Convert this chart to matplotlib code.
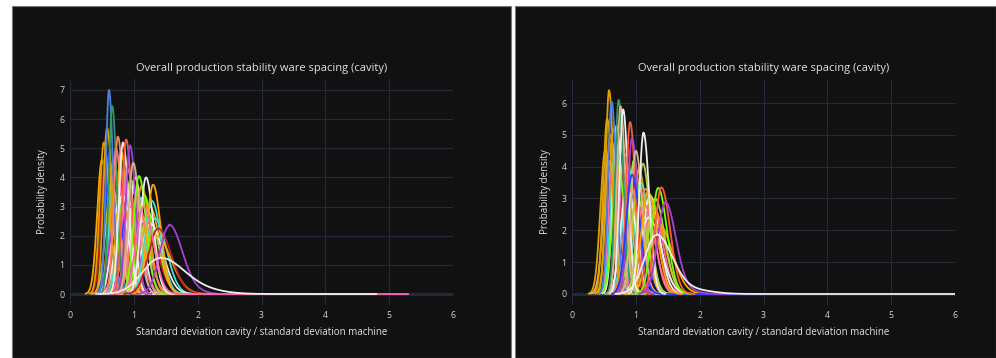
import numpy as np
import matplotlib.pyplot as plt
from matplotlib.patches import Rectangle

plt.rcParams['font.family'] = ['Open Sans', 'DejaVu Sans']

TITLE = 'Overall production stability ware spacing (cavity)'
XLABEL = 'Standard deviation cavity / standard deviation machine'
YLABEL = 'Probability density'

# colours used by the curves
C = {
    'gold': '#e0a000', 'royal': '#4f7fe0', 'sea': '#2e9a5e', 'salmon': '#fa8060',
    'white': '#eeeeee', 'tomato': '#ff5a3c', 'orchid': '#a83fd6', 'tan': '#d9b48a',
    'lime': '#7cfc00', 'orange': '#ffa500', 'turq': '#40e0d0', 'red': '#c42020',
    'pink': '#ff69b4', 'blue': '#2040ff', 'yg': '#b0d040',
}

# ---- left panel: mode, peak density, colour of every kde curve
left_mode = [0.50, 0.56, 0.63, 0.68, 0.70, 0.72, 0.74, 0.78, 0.80, 0.85, 0.87,
             0.90, 0.92, 0.96, 1.00, 1.02, 1.05, 1.10, 1.12, 1.18, 1.22, 1.25,
             1.33, 0.82, 0.95, 1.07, 1.16, 1.26, 0.65, 0.77, 1.35,
             0.53, 0.58, 0.61, 0.66, 0.75, 0.83, 0.88, 0.94, 0.99, 1.08,
             1.19, 1.28, 1.30, 1.38, 1.55, 1.15, 1.41]
left_peak = [4.6, 4.8, 5.0, 4.6, 4.2, 5.0, 3.0, 4.4, 4.9, 3.6, 4.0,
             4.3, 3.3, 3.9, 3.5, 4.0, 3.4, 3.3, 3.7, 2.5, 2.8, 3.0,
             2.6, 3.4, 3.0, 2.9, 3.4, 2.4, 3.8, 3.2, 2.0,
             5.2, 5.7, 7.0, 6.45, 5.4, 5.2, 5.3, 5.1, 4.5, 4.05,
             4.0, 3.2, 3.75, 2.25, 2.33, 3.0, 1.23]
left_color = ['orange', 'red', 'blue', 'orange', 'turq', 'pink', 'orchid', 'blue',
              'orange', 'turq', 'lime', 'pink', 'blue', 'gold', 'salmon', 'white',
              'pink', 'turq', 'gold', 'red', 'yg', 'orange', 'turq',
              'white', 'pink', 'salmon', 'lime', 'white', 'yg', 'white', 'orange',
              'gold', 'gold', 'royal', 'sea', 'salmon', 'white', 'tomato', 'orchid',
              'tan', 'lime', 'white', 'turq', 'orange', 'red', 'orchid', 'pink',
              'white']
# curves whose data run out far to the right
left_tail_idx = [46, 47]
left_tail_end = [5.3, 4.8]
# extra shoulder on the broad curves
left_bump_idx = [47, 45]
left_bump_mu = [2.1, 1.85]
left_bump_h = [0.10, 0.15]
left_bump_sd = [0.35, 0.2]

# ---- right panel
right_mode = [0.52, 0.60, 0.65, 0.68, 0.70, 0.78, 0.83, 0.85, 0.88, 0.97, 0.99,
              1.03, 1.05, 1.08, 1.15, 1.17, 1.22, 1.25, 1.28, 1.30, 0.72, 0.86,
              0.93, 1.02, 1.13, 1.20, 1.36, 0.57,
              0.55, 0.58, 0.62, 0.73, 0.76, 0.80, 0.91, 0.94, 1.00, 1.11, 0.94,
              1.19, 1.12, 1.35, 1.40, 1.46, 1.32]
right_peak = [4.5, 5.0, 5.2, 4.8, 5.3, 4.6, 4.4, 4.8, 4.0, 4.2, 3.2,
              3.6, 3.9, 3.5, 3.3, 2.6, 3.1, 2.9, 2.7, 3.0, 4.0, 3.5,
              3.3, 3.0, 2.8, 2.4, 2.2, 4.2,
              5.5, 6.4, 6.04, 6.1, 5.9, 5.8, 5.4, 4.9, 4.5, 4.1, 3.75,
              3.2, 5.07, 3.33, 3.35, 2.85, 1.85]
right_color = ['gold', 'orange', 'pink', 'turq', 'white', 'salmon', 'pink', 'red',
               'turq', 'lime', 'blue', 'pink', 'orange', 'turq', 'salmon', 'red',
               'white', 'pink', 'orange', 'yg', 'lime', 'white', 'salmon', 'yg',
               'pink', 'white', 'orange', 'tan',
               'gold', 'gold', 'royal', 'sea', 'tan', 'white', 'tomato', 'orchid',
               'tan', 'yg', 'blue', 'orange', 'white', 'lime', 'tomato', 'orchid',
               'white']
right_tail_idx = [43, 38, 44]
right_tail_end = [2.5, 3.0, 6.0]
right_bump_idx = [44, 43]
right_bump_mu = [1.9, 1.75]
right_bump_h = [0.12, 0.12]
right_bump_sd = [0.3, 0.2]

SKEW = 1.35


def kde_line(mode, peak, end=None):
    # two sided bell with unit area and the given peak height
    s = 1.0 / (peak * np.sqrt(2 * np.pi))
    sl = 2 * s / (1 + SKEW)
    sr = SKEW * sl
    lo = mode - 3.5 * sl
    hi = end if end is not None else mode + 3.8 * sr
    x = np.linspace(lo, hi, 600)
    sd = np.where(x < mode, sl, sr)
    y = peak * np.exp(-0.5 * ((x - mode) / sd) ** 2)
    return x, y


W, H = 996, 358
TXT = '#dfe2e7'


def panel(ax, modes, peaks, colors, tail_idx, tail_end, b_idx, b_mu, b_h, b_sd, ylim):
    ax.set_facecolor('#111111')
    for i, (m, p, c) in enumerate(zip(modes, peaks, colors)):
        end = tail_end[tail_idx.index(i)] if i in tail_idx else None
        x, y = kde_line(m, p, end)
        if i in b_idx:
            k = b_idx.index(i)
            y = y + b_h[k] * np.exp(-0.5 * ((x - b_mu[k]) / b_sd[k]) ** 2) * (x > m)
        ax.plot(x, y, color=C[c], lw=1.3, solid_capstyle='round')
    ax.set_xlim(0, 6)
    ax.set_ylim(*ylim)
    ax.set_xticks(range(7))
    ax.set_yticks(range(int(ylim[1]) + 1))
    ax.grid(color='#222c38', lw=0.8)
    ax.set_axisbelow(True)
    ax.axhline(0, color='#283442', lw=1.8, zorder=0.5)
    for sp in ax.spines.values():
        sp.set_visible(False)
    ax.tick_params(length=0, colors='#cfd2d8', labelsize=6.3, pad=4)
    # texts placed in figure pixels like the reference
    bb = ax.get_position()
    cx = (bb.x0 + bb.x1) / 2
    fig.text(cx, 1 - 69 / H, TITLE, color=TXT, fontsize=8.0, ha='center', va='center')
    fig.text(cx, 1 - 332 / H, XLABEL, color=TXT, fontsize=7.0, ha='center', va='center')
    fig.text(bb.x0 - 27 / W, (bb.y0 + bb.y1) / 2, YLABEL, color=TXT, fontsize=7.0,
             ha='center', va='center', rotation=90)


fig = plt.figure(figsize=(W / 100, H / 100), dpi=100, facecolor='white')

# dark paper of each panel
for x0, x1 in [(12, 511), (515, 996)]:
    fig.patches.append(Rectangle((x0 / W, 0), (x1 - x0) / W, (H - 6) / H,
                                 transform=fig.transFigure, facecolor='#111111',
                                 edgecolor='#777777', lw=0.8, zorder=-5))

ax1 = fig.add_axes([70 / W, (H - 305) / H, 383 / W, 226 / H])
ax2 = fig.add_axes([572 / W, (H - 305) / H, 383 / W, 226 / H])

panel(ax1, left_mode, left_peak, left_color, left_tail_idx, left_tail_end,
      left_bump_idx, left_bump_mu, left_bump_h, left_bump_sd, (-0.377, 7.377))
panel(ax2, right_mode, right_peak, right_color, right_tail_idx, right_tail_end,
      right_bump_idx, right_bump_mu, right_bump_h, right_bump_sd, (-0.346, 6.754))

fig.savefig('out.png', dpi=100, facecolor='white')
